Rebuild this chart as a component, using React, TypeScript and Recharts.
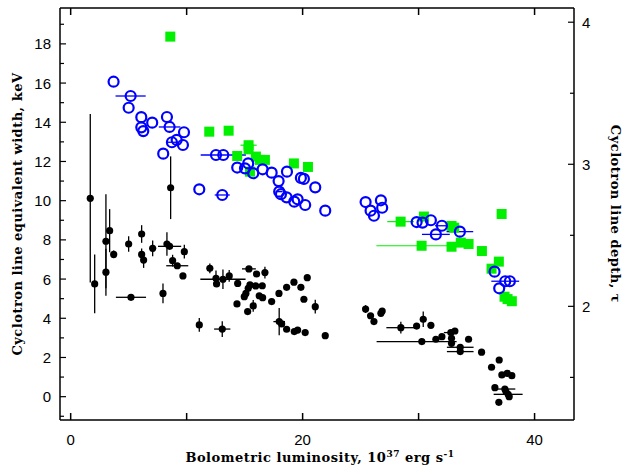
import React from "react";
import { ScatterChart, Scatter, XAxis, YAxis, ErrorBar } from "recharts";

// luminosity axis (10^37 erg/s) and equivalent width (keV)
const lumTicks = [0, 10, 20, 30, 40];
const ewTicks = [-1, 0, 1, 2, 3, 4, 5, 6, 7, 8, 9, 10, 11, 12, 13, 14, 15, 16, 17, 18, 19];
const depthTicks = [1.5, 2, 2.5, 3, 3.5, 4];

const blueX = [3.7, 5.17, 5.0, 6.09, 8.3, 7.03, 6.09, 6.26, 8.53, 9.77, 9.14, 8.73, 9.68, 7.98, 11.09, 12.53, 13.16, 13.07, 14.36, 15.03, 15.31, 15.74, 16.55, 17.33, 18.65, 17.93, 17.98, 18.13, 18.62, 19.28, 19.57, 20.22, 19.85, 20.11, 21.09, 21.95, 25.43, 26.75, 25.86, 26.86, 26.15, 29.83, 30.34, 31.06, 32.01, 31.49, 33.56, 36.55, 37.47, 37.87, 36.95];
const blueY = [16.07, 15.34, 14.74, 14.26, 14.27, 13.98, 13.74, 13.55, 13.76, 13.49, 13.1, 12.98, 12.84, 12.4, 10.58, 12.33, 12.33, 10.29, 11.69, 11.65, 11.9, 11.4, 11.6, 11.43, 11.48, 11.0, 10.46, 10.33, 10.17, 9.95, 10.07, 9.78, 11.16, 11.11, 10.68, 9.49, 9.93, 10.02, 9.49, 9.64, 9.23, 8.91, 8.88, 9.0, 8.72, 8.28, 8.42, 6.38, 5.89, 5.89, 5.53];
const blueXErr = [0, 1.3, 0, 0, 0, 0, 0, 0, 0.93, 0, 0, 0.5, 0, 0, 0, 0, 1.95, 0.65, 0, 0, 0, 0, 0, 0, 0, 0, 0.3, 0, 0, 0, 0, 0, 0, 0, 0, 0, 0, 0, 0, 0, 0, 0, 0, 0, 0.6, 1.2, 1.15, 0, 1.2, 0, 0];

const greenX = [8.59, 11.95, 13.62, 14.36, 15.34, 15.34, 15.97, 16.32, 16.75, 15.46, 19.25, 20.46, 28.45, 30.46, 32.84, 33.07, 37.16, 30.26, 32.84, 33.64, 34.31, 35.46, 36.92, 36.29, 37.41, 37.67, 38.04];
const greenY = [18.37, 13.52, 13.57, 12.28, 12.83, 12.62, 12.25, 12.08, 12.08, 11.48, 11.9, 11.72, 8.93, 9.19, 8.71, 8.62, 9.32, 7.7, 7.65, 7.86, 7.79, 7.43, 6.89, 6.53, 5.1, 4.98, 4.87];
const greenXErr: (number | number[])[] = [0, 0, 0, 0, 0.7, 0, 0, 0, 0, 0, 0, 0, 1.15, 0, 0, 0, 0, [3.9, 2.6], 0, 0, 0, 0, 0, 0, 0, 0, 0];

const blackX = [1.69, 2.07, 3.04, 3.04, 3.36, 3.71, 5.0, 5.2, 6.12, 6.12, 6.29, 7.07, 7.96, 8.3, 8.53, 8.62, 8.79, 9.19, 9.8, 9.68, 11.09, 13.07, 12.0, 12.53, 12.58, 13.13, 13.67, 14.4, 14.34, 15.26, 15.74, 14.97, 15.11, 15.31, 15.46, 15.95, 16.52, 16.26, 16.55, 15.37, 16.03, 16.75, 17.33, 17.96, 18.62, 19.25, 19.85, 20.4, 20.11, 21.09, 17.98, 18.19, 18.62, 19.28, 19.57, 20.22, 21.95, 25.43, 25.86, 26.15, 26.75, 26.86, 28.47, 29.83, 30.4, 31.06, 30.28, 31.49, 32.01, 32.78, 33.13, 32.84, 32.84, 34.31, 33.59, 33.59, 35.43, 36.95, 36.29, 37.18, 37.64, 38.04, 36.58, 37.44, 37.53, 37.72, 37.81, 36.92];
const blackY = [10.12, 5.75, 7.93, 6.35, 8.47, 7.26, 7.79, 5.07, 8.3, 7.26, 6.97, 7.57, 5.27, 7.79, 7.67, 10.66, 6.94, 6.68, 7.4, 6.16, 3.66, 3.45, 6.55, 6.04, 5.75, 5.99, 6.16, 5.78, 4.73, 4.34, 4.63, 5.1, 5.27, 5.53, 5.7, 5.65, 5.66, 5.15, 5.05, 6.52, 6.26, 6.33, 4.85, 5.27, 5.58, 5.84, 5.58, 6.07, 4.97, 4.59, 3.83, 3.71, 3.44, 3.32, 3.4, 3.27, 3.11, 4.47, 4.13, 3.83, 4.25, 4.37, 3.52, 3.6, 3.95, 3.64, 2.81, 2.93, 3.06, 3.27, 3.35, 2.98, 2.72, 2.93, 2.52, 2.3, 2.27, 1.87, 1.5, 1.11, 1.19, 1.07, 0.46, 0.39, 0.26, 0.12, 0.0, -0.29];
const blackXErr: (number | number[])[] = [0, 0, 0, 0, 0, 0, 0, 1.3, 0, 0, 0, 0, 0, 0, 1.0, 0, 0, 0.95, 0, 0, 0, 0.7, 0, 0, 0, 1.95, 0, 0, 0, 0, 0, 0, 0, 0, 0, 0.6, 0, 0, 0, 0.6, 0, 0, 0, 0, 0, 0, 0, 0, 0, 0, 0.5, 0, 0, 0, 0, 0, 0, 0, 0, 0, 0, 0, 1.25, 0, 0, 0, [3.9, 3.0], 0, 0, 0.6, 0, 0, 0, 0, 1.15, 1.15, 0, 0, 0, 0, 0, 0, 0, 0.9, 0, 1.25, 0, 0];
const blackYErr = [4.3, 1.5, 2.4, 1.2, 1.1, 0.2, 0.4, 0, 0.45, 0.3, 0.4, 0.4, 0.5, 0.6, 0, 1.6, 0.3, 0, 0.35, 0, 0.35, 0.4, 0.25, 0.4, 0, 0.5, 0.3, 0, 0, 0, 0.3, 0, 0, 0, 0, 0, 0, 0, 0, 0, 0, 0.3, 0, 0, 0, 0, 0, 0, 0, 0.35, 0.7, 0, 0, 0, 0, 0, 0, 0.2, 0, 0, 0, 0, 0.3, 0, 0.4, 0, 0, 0, 0, 0, 0, 0, 0, 0, 0, 0, 0, 0, 0, 0, 0, 0, 0, 0, 0, 0, 0, 0];

const blueData = blueX.map((x, i) => ({ x, y: blueY[i], ex: blueXErr[i] }));
const greenData = greenX.map((x, i) => ({ x, y: greenY[i], ex: greenXErr[i] }));
const blackData = blackX.map((x, i) => ({ x, y: blackY[i], ex: blackXErr[i], ey: blackYErr[i] }));

const numFont = "Liberation Sans, Arial, sans-serif";
const titleFont = "DejaVu Serif, serif";
const titleStyle = { fontSize: 13, fontWeight: "bold" as const, letterSpacing: 0.5 };

const BottomTick = (p: any) => {
  const v = p.payload.value;
  return (
    <g>
      <line x1={p.x} y1={p.y} x2={p.x} y2={p.y - 7} stroke="#000" strokeWidth={1.5} />
      {v % 20 === 0 && (
        <text x={p.x} y={p.y + 25} textAnchor="middle" fontSize={15} fontFamily={numFont} fill="#000">{v}</text>
      )}
    </g>
  );
};

const TopTick = (p: any) => (
  <line x1={p.x} y1={p.y} x2={p.x} y2={p.y + 7} stroke="#000" strokeWidth={1.5} />
);

const LeftTick = (p: any) => {
  const v = p.payload.value;
  const major = v % 2 === 0;
  return (
    <g>
      <line x1={p.x} y1={p.y} x2={p.x + (major ? 6 : 4)} y2={p.y} stroke="#000" strokeWidth={1.2} />
      {major && (
        <text x={p.x - 9} y={p.y + 5.5} textAnchor="end" fontSize={15} fontFamily={numFont} fill="#000">{v}</text>
      )}
    </g>
  );
};

const RightTick = (p: any) => {
  const v = p.payload.value;
  const major = Number.isInteger(v);
  return (
    <g>
      <line x1={p.x} y1={p.y} x2={p.x - (major ? 6 : 4)} y2={p.y} stroke="#000" strokeWidth={1.2} />
      {major && (
        <text x={p.x + 8} y={p.y + 5.5} textAnchor="start" fontSize={15} fontFamily={numFont} fill="#000">{v}</text>
      )}
    </g>
  );
};

const XTitle = (props: any) => {
  const vb = props.viewBox;
  return (
    <text x={vb.x + vb.width / 2 + 3} y={vb.y + 42} textAnchor="middle" fontFamily={titleFont} fill="#000" style={titleStyle}>
      Bolometric luminosity, 10<tspan dy={-5} fontSize={9}>37</tspan>
      <tspan dy={5}> erg s</tspan>
      <tspan dy={-5} fontSize={9}>-1</tspan>
    </text>
  );
};

const LeftTitle = (props: any) => {
  const vb = props.viewBox;
  const cx = vb.x + 22;
  const cy = vb.y + vb.height / 2;
  return (
    <text x={cx} y={cy} transform={`rotate(-90 ${cx} ${cy})`} textAnchor="middle" fontFamily={titleFont} fill="#000" style={titleStyle}>
      Cyclotron line equivalent width, keV
    </text>
  );
};

const RightTitle = (props: any) => {
  const vb = props.viewBox;
  const cx = vb.x + 37;
  const cy = vb.y + vb.height / 2;
  return (
    <text x={cx} y={cy} transform={`rotate(90 ${cx} ${cy})`} textAnchor="middle" fontFamily={titleFont} fill="#000" style={titleStyle}>
      Cyclotron line depth, τ
    </text>
  );
};

const OpenCircle = (p: any) => (
  <circle cx={p.cx} cy={p.cy} r={5} fill="none" stroke="#0000ff" strokeWidth={2.2} />
);
const GreenSquare = (p: any) => (
  <rect x={p.cx - 5} y={p.cy - 5} width={10} height={10} fill="#00f000" />
);
const Dot = (p: any) => <circle cx={p.cx} cy={p.cy} r={3.6} fill="#000" />;

export default function App() {
  return (
    <div style={{ position: "absolute", left: 0, top: 0, background: "#fff" }}>
      <ScatterChart width={628} height={466} margin={{ top: 0, right: 0, bottom: 0, left: 0 }}>
        <XAxis
          type="number"
          dataKey="x"
          domain={[-0.92, 43.4]}
          allowDataOverflow
          ticks={lumTicks}
          height={46}
          tickSize={0}
          tickMargin={0}
          tickLine={false}
          tick={BottomTick}
          axisLine={{ stroke: "#000", strokeWidth: 1.5 }}
          label={{ content: XTitle }}
        />
        <XAxis
          xAxisId="top"
          orientation="top"
          type="number"
          dataKey="x"
          domain={[-0.92, 43.4]}
          allowDataOverflow
          ticks={lumTicks}
          height={8}
          tickSize={0}
          tickMargin={0}
          tickLine={false}
          tick={TopTick}
          axisLine={{ stroke: "#000", strokeWidth: 1.5 }}
        />
        <YAxis
          type="number"
          dataKey="y"
          domain={[-1.19, 19.83]}
          allowDataOverflow
          ticks={ewTicks}
          interval={0}
          width={60}
          tickSize={0}
          tickMargin={0}
          tickLine={false}
          tick={LeftTick}
          axisLine={{ stroke: "#000", strokeWidth: 1.5 }}
          label={{ content: LeftTitle }}
        />
        <YAxis
          yAxisId="right"
          orientation="right"
          type="number"
          domain={[1.2, 4.1]}
          allowDataOverflow
          ticks={depthTicks}
          interval={0}
          width={54}
          tickSize={0}
          tickMargin={0}
          tickLine={false}
          tick={RightTick}
          axisLine={{ stroke: "#000", strokeWidth: 1.5 }}
          label={{ content: RightTitle }}
        />
        <Scatter data={greenData} shape={GreenSquare} isAnimationActive={false}>
          <ErrorBar dataKey="ex" direction="x" width={0} stroke="#00f000" strokeWidth={1.2} isAnimationActive={false} />
        </Scatter>
        <Scatter data={blueData} shape={OpenCircle} isAnimationActive={false}>
          <ErrorBar dataKey="ex" direction="x" width={0} stroke="#0000ff" strokeWidth={1.3} isAnimationActive={false} />
        </Scatter>
        <Scatter data={blackData} shape={Dot} isAnimationActive={false}>
          <ErrorBar dataKey="ex" direction="x" width={0} stroke="#000" strokeWidth={1.3} isAnimationActive={false} />
          <ErrorBar dataKey="ey" direction="y" width={0} stroke="#000" strokeWidth={1.3} isAnimationActive={false} />
        </Scatter>
      </ScatterChart>
    </div>
  );
}
